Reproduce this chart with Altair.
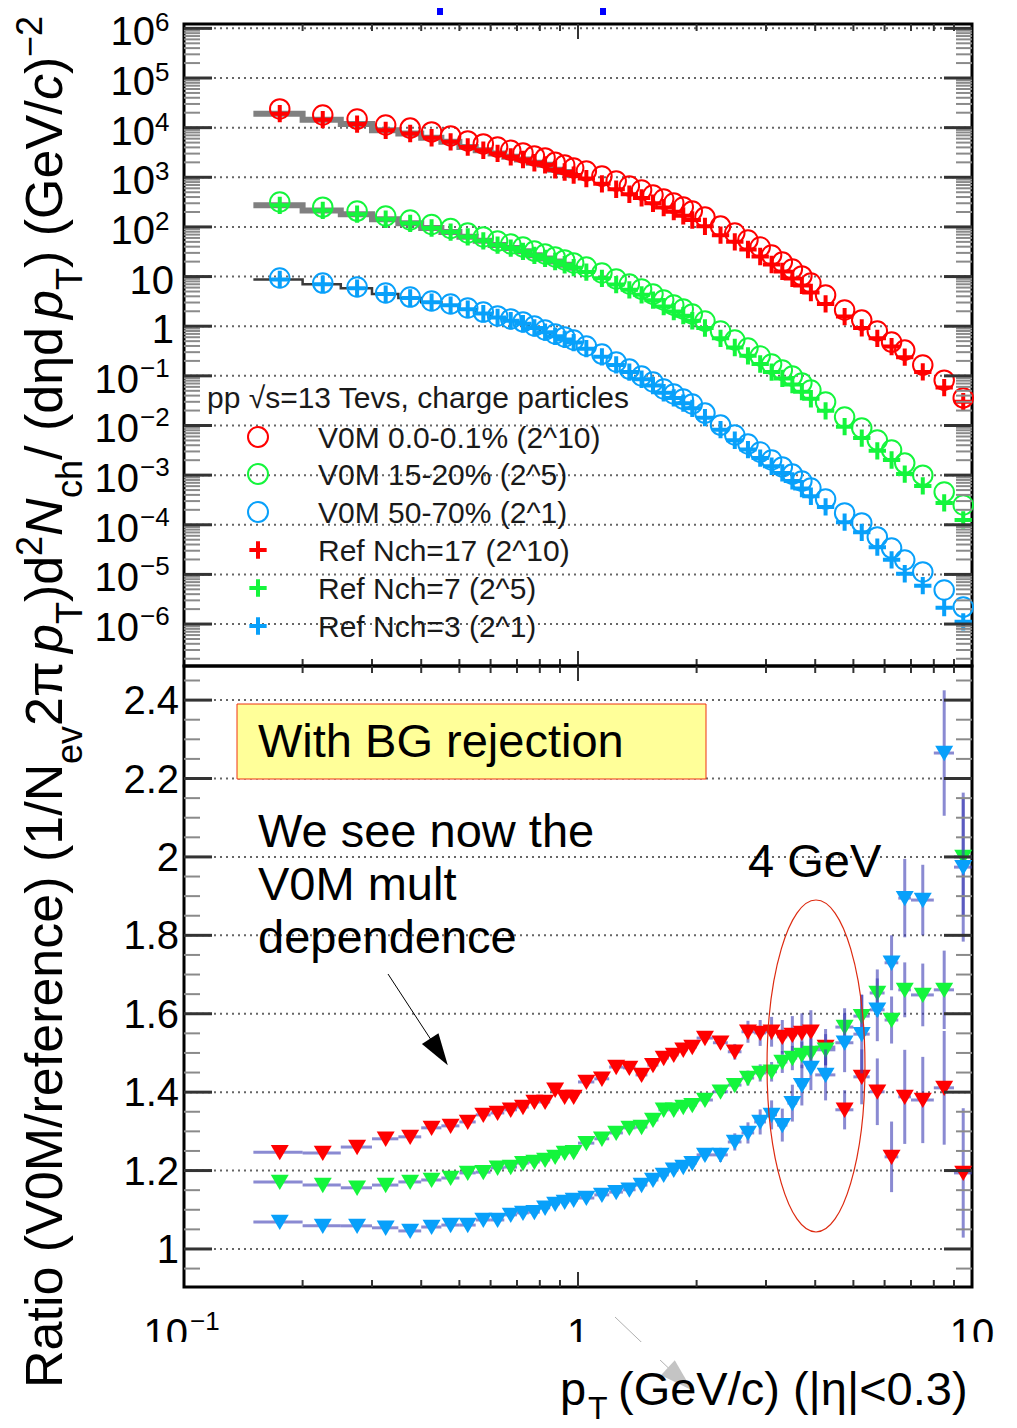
import altair as alt
import pandas as pd

FONT = "Liberation Sans"
W, H_TOP, H_BOT = 788, 642, 621

# ---------------- data ----------------
pt = [0.175, 0.225, 0.275, 0.325, 0.375, 0.425, 0.475, 0.525, 0.575, 0.625,
      0.675, 0.725, 0.775, 0.825, 0.875, 0.925, 0.975, 1.05, 1.15, 1.25,
      1.35, 1.45, 1.55, 1.65, 1.75, 1.85, 1.95, 2.1, 2.3, 2.5,
      2.7, 2.9, 3.1, 3.3, 3.5, 3.7, 3.9, 4.25, 4.75, 5.25,
      5.75, 6.25, 6.75, 7.5, 8.5, 9.5]
bin_lo = [0.15, 0.2, 0.25, 0.3, 0.35, 0.4, 0.45, 0.5, 0.55, 0.6, 0.65, 0.7, 0.75, 0.8, 0.85, 0.9, 0.95,
          1.0, 1.1, 1.2, 1.3, 1.4, 1.5, 1.6, 1.7, 1.8, 1.9, 2.0, 2.2, 2.4, 2.6, 2.8, 3.0, 3.2, 3.4, 3.6,
          3.8, 4.0, 4.5, 5.0, 5.5, 6.0, 6.5, 7.0, 8.0, 9.0]
bin_hi = [0.2, 0.25, 0.3, 0.35, 0.4, 0.45, 0.5, 0.55, 0.6, 0.65, 0.7, 0.75, 0.8, 0.85, 0.9, 0.95, 1.0,
          1.1, 1.2, 1.3, 1.4, 1.5, 1.6, 1.7, 1.8, 1.9, 2.0, 2.2, 2.4, 2.6, 2.8, 3.0, 3.2, 3.4, 3.6, 3.8,
          4.0, 4.5, 5.0, 5.5, 6.0, 6.5, 7.0, 8.0, 9.0, 10.0]

v0m_0_01 = [23800, 18000, 14900, 11300, 9800, 8200, 6800, 5400, 4700, 4070,
            3500, 3100, 2700, 2450, 2000, 1770, 1540, 1340, 1060, 841,
            667, 554, 440, 365, 303, 252, 209, 158, 104, 75.5,
            54.6, 39.4, 27.2, 19.6, 14.2, 10.3, 7.41, 4.25, 2.12, 1.33,
            0.80, 0.48, 0.33, 0.165, 0.082, 0.036]
ref_17 = [19100, 14500, 11800, 8820, 7620, 6260, 5180, 4080, 3500, 3020,
          2580, 2280, 1960, 1780, 1420, 1280, 1110, 940, 739, 574,
          456, 384, 300, 245, 203, 167, 138, 103, 68.2, 50.2,
          35.1, 25.4, 17.5, 12.7, 9.18, 6.64, 4.77, 2.81, 1.56, 0.924,
          0.571, 0.389, 0.238, 0.120, 0.0581, 0.0302]
v0m_15_20 = [318, 250, 209, 166, 138, 112, 92.9, 75.5, 62.7, 52.0,
             45.3, 39.4, 32.7, 28.5, 24.8, 21.6, 18.8, 15.6, 11.8, 8.93,
             7.08, 5.61, 4.45, 3.37, 2.67, 2.22, 1.76, 1.27, 0.80, 0.527,
             0.364, 0.251, 0.173, 0.131, 0.0993, 0.0718, 0.0519, 0.0297, 0.0148, 0.0089,
             0.0051, 0.0032, 0.00175, 0.00100, 0.000457, 0.00025]
ref_7 = [272, 215, 181, 143, 118, 95.2, 78.7, 63.2, 52.4, 43.1,
         37.5, 32.3, 26.8, 23.2, 20.1, 17.3, 15.1, 12.3, 9.21, 6.89,
         5.41, 4.28, 3.35, 2.49, 1.97, 1.63, 1.29, 0.920, 0.571, 0.372,
         0.253, 0.173, 0.119, 0.0887, 0.0668, 0.0480, 0.0346, 0.0197, 0.00945, 0.00558,
         0.00309, 0.00202, 0.00105, 0.000607, 0.000275, 0.000125]
v0m_50_70 = [9.35, 7.41, 6.16, 4.67, 3.87, 3.22, 2.80, 2.33, 1.93, 1.61,
             1.40, 1.22, 1.01, 0.838, 0.697, 0.607, 0.527, 0.399, 0.275, 0.190,
             0.137, 0.0993, 0.0752, 0.0543, 0.0431, 0.0341, 0.0271, 0.0178, 0.0102, 0.00643,
             0.00424, 0.00292, 0.00202, 0.00146, 0.00105, 0.00076, 0.00055, 0.00033, 0.000173, 0.000109,
             5.7e-5, 3.4e-5, 1.95e-5, 1.12e-5, 4.85e-6, 2.2e-6]
ref_3 = [8.75, 7.00, 5.82, 4.43, 3.70, 3.05, 2.64, 2.20, 1.80, 1.50,
         1.29, 1.12, 0.923, 0.758, 0.625, 0.542, 0.468, 0.353, 0.242, 0.166,
         0.119, 0.0854, 0.0639, 0.0457, 0.0359, 0.0282, 0.0222, 0.0144, 0.00823, 0.00505,
         0.00327, 0.00221, 0.00151, 0.00111, 0.000765, 0.000536, 0.000376, 0.000229, 0.000113, 7.04e-5,
         3.54e-5, 1.97e-5, 1.03e-5, 5.93e-6, 2.14e-6, 1.11e-6]

ratio_0_01 = [1.247, 1.245, 1.260, 1.281, 1.286, 1.309, 1.314, 1.324, 1.342, 1.347,
              1.355, 1.362, 1.375, 1.375, 1.406, 1.388, 1.388, 1.426, 1.434, 1.464,
              1.462, 1.444, 1.469, 1.487, 1.495, 1.508, 1.515, 1.538, 1.526, 1.503,
              1.554, 1.551, 1.554, 1.541, 1.546, 1.551, 1.554, 1.515, 1.355, 1.439,
              1.401, 1.235, 1.388, 1.380, 1.411, 1.194]
ratio_15_20 = [1.171, 1.163, 1.156, 1.163, 1.171, 1.176, 1.181, 1.194, 1.196, 1.207,
               1.209, 1.219, 1.222, 1.227, 1.235, 1.245, 1.247, 1.270, 1.281, 1.296,
               1.309, 1.311, 1.329, 1.355, 1.355, 1.362, 1.367, 1.380, 1.401, 1.418,
               1.436, 1.449, 1.452, 1.477, 1.487, 1.495, 1.500, 1.508, 1.566, 1.594,
               1.653, 1.584, 1.661, 1.648, 1.661, 2.000]
ratio_50_70 = [1.069, 1.059, 1.059, 1.054, 1.046, 1.056, 1.061, 1.061, 1.074, 1.074,
               1.087, 1.092, 1.094, 1.105, 1.115, 1.120, 1.125, 1.130, 1.138, 1.145,
               1.151, 1.163, 1.176, 1.189, 1.202, 1.209, 1.219, 1.240, 1.240, 1.273,
               1.296, 1.324, 1.342, 1.316, 1.372, 1.418, 1.462, 1.444, 1.526, 1.548,
               1.610, 1.730, 1.895, 1.890, 2.265, 1.974]
err_0_01 = [0.004, 0.004, 0.004, 0.004, 0.004, 0.004, 0.005, 0.005, 0.005, 0.005,
            0.005, 0.005, 0.006, 0.006, 0.006, 0.006, 0.007, 0.007, 0.007, 0.008,
            0.008, 0.008, 0.009, 0.009, 0.010, 0.010, 0.011, 0.012, 0.015, 0.020,
            0.028, 0.033, 0.038, 0.043, 0.048, 0.050, 0.055, 0.046, 0.050, 0.070,
            0.085, 0.090, 0.120, 0.110, 0.145, 0.165]
err_15_20 = [0.003, 0.003, 0.003, 0.003, 0.003, 0.003, 0.004, 0.004, 0.004, 0.004,
             0.004, 0.004, 0.005, 0.005, 0.005, 0.005, 0.006, 0.006, 0.006, 0.007,
             0.007, 0.007, 0.008, 0.008, 0.009, 0.009, 0.010, 0.011, 0.013, 0.016,
             0.019, 0.022, 0.025, 0.028, 0.031, 0.034, 0.037, 0.040, 0.048, 0.055,
             0.060, 0.060, 0.070, 0.080, 0.100, 0.150]
err_50_70 = [0.003, 0.003, 0.003, 0.003, 0.003, 0.003, 0.004, 0.004, 0.004, 0.004,
             0.004, 0.004, 0.005, 0.005, 0.005, 0.005, 0.006, 0.006, 0.006, 0.007,
             0.007, 0.008, 0.008, 0.009, 0.010, 0.011, 0.012, 0.014, 0.018, 0.022,
             0.027, 0.032, 0.037, 0.042, 0.047, 0.052, 0.057, 0.065, 0.075, 0.100,
             0.080, 0.070, 0.100, 0.090, 0.160, 0.190]

v0m_labels = ["V0M 0.0-0.1% (2^10)", "V0M 15-20% (2^5)", "V0M 50-70% (2^1)"]
ref_labels = ["Ref Nch=17 (2^10)", "Ref Nch=7 (2^5)", "Ref Nch=3 (2^1)"]
colors = ["#ff0000", "#14f53c", "#08a0fa"]
v0m_all = [v0m_0_01, v0m_15_20, v0m_50_70]
ref_all = [ref_17, ref_7, ref_3]
ratio_all = [ratio_0_01, ratio_15_20, ratio_50_70]
err_all = [err_0_01, err_15_20, err_50_70]

ERR_COLOR = "#3c3cb4"

# ---------------- scales ----------------
XS = alt.Scale(type="log", domain=[0.1, 10], nice=False)
YT = alt.Scale(type="log", domain=[10 ** -6.845, 10 ** 6.088], nice=False)
YB = alt.Scale(type="linear", domain=[0.903, 2.487], nice=False, zero=False)
CS = alt.Scale(domain=v0m_labels, range=colors)

ONE = pd.DataFrame({"k": [0]})


def X(f="pt"):
    return alt.X(f"{f}:Q", scale=XS, axis=None)


def txt(x, y, text, size, align="left", angle=None, style="normal", color="black"):
    kw = dict(text=text, fontSize=size, font=FONT, align=align, baseline="alphabetic",
              color=color, fontStyle=style)
    if angle is not None:
        kw["angle"] = angle
    return alt.Chart(ONE).mark_text(**kw).encode(x=alt.value(x), y=alt.value(y))


def hticks(vals, scale, x0, x1, color, width):
    return alt.Chart(pd.DataFrame({"v": vals})).mark_rule(color=color, strokeWidth=width).encode(
        y=alt.Y("v:Q", scale=scale, axis=None), x=alt.value(x0), x2=alt.value(x1))


def vticks(vals, y0, y1, color="#333333", width=2):
    return alt.Chart(pd.DataFrame({"v": vals})).mark_rule(color=color, strokeWidth=width).encode(
        x=alt.X("v:Q", scale=XS, axis=None), y=alt.value(y0), y2=alt.value(y1))


def grid(vals, scale):
    return alt.Chart(pd.DataFrame({"v": vals})).mark_rule(
        color="#666666", strokeWidth=2, strokeDash=[2, 4]).encode(
        y=alt.Y("v:Q", scale=scale, axis=None), x=alt.value(0), x2=alt.value(W))


x_major = [1.0]
x_minor = [0.2, 0.3, 0.4, 0.5, 0.6, 0.7, 0.8, 0.9, 2, 3, 4, 5, 6, 7, 8, 9]


def frame_ticks(H, ymaj, ymin, scale):
    return [
        hticks(ymin, scale, 0, 16, "#8a8a8a", 2),
        hticks(ymin, scale, W - 16, W, "#8a8a8a", 2),
        hticks(ymaj, scale, 0, 28, "#333333", 3),
        hticks(ymaj, scale, W - 28, W, "#333333", 3),
        vticks(x_minor, 0, 7), vticks(x_major, 0, 15),
        vticks(x_minor, H - 7, H), vticks(x_major, H - 15, H),
    ]


# ---------------- top panel ----------------
top_major = [10.0 ** e for e in range(-6, 7)]
top_minor = [k * 10.0 ** e for e in range(-7, 6) for k in range(2, 10) if k * 10.0 ** e >= 10 ** -6.845]

rows = []
for lab, v, r in zip(v0m_labels, v0m_all, ref_all):
    for p, a, b in zip(pt, v, r):
        rows.append({"pt": p, "v0m": a, "ref": b, "series": lab})
df_sp = pd.DataFrame(rows)

top_layers = [grid(top_major, YT)]

# reference histograms drawn as steps at low pT
for i, (r, col, w) in enumerate(zip(ref_all, ["#808080", "#808080", "#3a3a3a"], [6, 6, 2.5])):
    n = 17
    xs = bin_lo[:n] + [bin_hi[n - 1]]
    ys = r[:n] + [r[n - 1]]
    top_layers.append(
        alt.Chart(pd.DataFrame({"x": xs, "y": ys})).mark_line(
            interpolate="step-after", color=col, strokeWidth=w).encode(
            x=X("x"), y=alt.Y("y:Q", scale=YT, axis=None)))

PLUS = "M-1,0L1,0M0,-1L0,1"
top_layers.append(
    alt.Chart(df_sp).mark_point(shape="circle", filled=False, size=380, strokeWidth=2, opacity=1).encode(
        x=X(), y=alt.Y("v0m:Q", scale=YT, axis=None), color=alt.Color("series:N", scale=CS, legend=None)))
top_layers.append(
    alt.Chart(df_sp).mark_point(shape=PLUS, filled=False, size=300, strokeWidth=4, opacity=1).encode(
        x=X(), y=alt.Y("ref:Q", scale=YT, axis=None), color=alt.Color("series:N", scale=CS, legend=None)))

top_layers += frame_ticks(H_TOP, top_major, top_minor, YT)

# y tick labels (top)
pos = pd.DataFrame({"v": [1e6, 1e5, 1e4, 1e3, 1e2], "sup": ["6", "5", "4", "3", "2"]})
neg = pd.DataFrame({"v": [1e-1, 1e-2, 1e-3, 1e-4, 1e-5, 1e-6],
                    "sup": ["\u22121", "\u22122", "\u22123", "\u22124", "\u22125", "\u22126"]})
plain = pd.DataFrame({"v": [10.0, 1.0], "t": ["10", "1"]})
YTv = alt.Y("v:Q", scale=YT, axis=None)
top_layers += [
    alt.Chart(pos).mark_text(text="10", fontSize=40, font=FONT, align="right", baseline="alphabetic",
                             dy=17, color="black").encode(y=YTv, x=alt.value(-29)),
    alt.Chart(pos).mark_text(fontSize=26, font=FONT, align="left", baseline="alphabetic",
                             dy=3, color="black").encode(y=YTv, x=alt.value(-29), text="sup:N"),
    alt.Chart(neg).mark_text(text="10", fontSize=40, font=FONT, align="right", baseline="alphabetic",
                             dy=17, color="black").encode(y=YTv, x=alt.value(-45)),
    alt.Chart(neg).mark_text(fontSize=26, font=FONT, align="left", baseline="alphabetic",
                             dy=1, color="black").encode(y=YTv, x=alt.value(-44), text="sup:N"),
    alt.Chart(plain).mark_text(fontSize=40, font=FONT, align="right", baseline="alphabetic",
                               dy=17, color="black").encode(y=YTv, x=alt.value(-10), text="t:N"),
]

# legend
top_layers.append(txt(23, 384, "pp \u221As=13 Tevs, charge particles", 30, color="#1a1a1a"))
leg_rows = [413, 450, 488, 526, 564, 602]
for i in range(3):
    top_layers.append(alt.Chart(ONE).mark_point(shape="circle", filled=False, size=400, strokeWidth=2,
                                                opacity=1, color=colors[i]).encode(
        x=alt.value(74), y=alt.value(leg_rows[i])))
    top_layers.append(txt(134, leg_rows[i] + 11, v0m_labels[i], 30, color="#1a1a1a"))
for i in range(3):
    top_layers.append(alt.Chart(ONE).mark_point(shape=PLUS, filled=False, size=300, strokeWidth=4,
                                                opacity=1, color=colors[i]).encode(
        x=alt.value(74), y=alt.value(leg_rows[3 + i])))
    top_layers.append(txt(134, leg_rows[3 + i] + 11, ref_labels[i], 30, color="#1a1a1a"))

# vertical axis title (spans both panels), pieces placed bottom-to-top
XM, XSUB, XSUP = 62 - 184, 82 - 184, 42 - 184
title_pieces = [
    ("Ratio (V0M/reference) (1/N", 1388, XM, 52, "normal"),
    ("ev", 764, XSUB, 36, "normal"),
    (" 2\u03c0", 726, XM, 52, "normal"),
    ("p", 653, XM, 52, "italic"),
    ("T", 624, XSUB, 36, "normal"),
    (")d", 602, XM, 52, "normal"),
    ("2", 556, XSUP, 36, "normal"),
    ("N", 536, XM, 52, "italic"),
    ("ch", 498, XSUB, 36, "normal"),
    (" / (d\u03b7d", 460, XM, 52, "normal"),
    ("p", 319, XM, 52, "italic"),
    ("T", 290, XSUB, 36, "normal"),
    (") (GeV/", 268, XM, 52, "normal"),
    ("c", 100, XM, 52, "italic"),
    (")", 74, XM, 52, "normal"),
    ("\u22122", 57, XSUP, 36, "normal"),
]
for t, y, x, s, st in title_pieces:
    top_layers.append(txt(x, y - 24, t, s, angle=270, style=st))

# blue marks at the very top of the page
for x0 in [253, 416]:
    top_layers.append(alt.Chart(ONE).mark_rect(color="#0000ff").encode(
        x=alt.value(x0), x2=alt.value(x0 + 6), y=alt.value(-16), y2=alt.value(-9)))

top = alt.layer(*top_layers).properties(width=W, height=H_TOP)

# ---------------- bottom panel ----------------
bot_major = [1.0, 1.2, 1.4, 1.6, 1.8, 2.0, 2.2, 2.4]
bot_minor = [round(0.95 + 0.05 * i, 2) for i in range(31)]
bot_minor = [v for v in bot_minor if all(abs(v - m) > 1e-6 for m in bot_major)]

YBv = alt.Y("v:Q", scale=YB, axis=None)
bot_layers = [grid(bot_major, YB)]

# yellow box
bot_layers.append(alt.Chart(ONE).mark_rect(fill="#ffff99", stroke="#ee3311", strokeWidth=1).encode(
    x=alt.value(53), x2=alt.value(522), y=alt.value(38), y2=alt.value(113)))
bot_layers.append(txt(74, 91, "With BG rejection", 47))

TRI = "M-1,-0.8L1,-0.8L0,0.9Z"
for lab, rat, err, col in zip(v0m_labels, ratio_all, err_all, colors):
    d = pd.DataFrame({"pt": pt, "lo": bin_lo, "hi": bin_hi, "r": rat,
                      "rlo": [a - b for a, b in zip(rat, err)], "rhi": [a + b for a, b in zip(rat, err)]})
    bot_layers.append(alt.Chart(d).mark_rule(color=ERR_COLOR, strokeWidth=3, opacity=0.6).encode(
        x=X("lo"), x2="hi:Q", y=alt.Y("r:Q", scale=YB, axis=None)))
    bot_layers.append(alt.Chart(d).mark_rule(color=ERR_COLOR, strokeWidth=3, opacity=0.6).encode(
        x=X("pt"), y=alt.Y("rlo:Q", scale=YB, axis=None), y2="rhi:Q"))
    bot_layers.append(alt.Chart(d).mark_point(shape=TRI, filled=True, size=324, opacity=1, color=col,
                                              strokeWidth=0).encode(
        x=X("pt"), y=alt.Y("r:Q", scale=YB, axis=None)))

bot_layers += frame_ticks(H_BOT, bot_major, bot_minor, YB)

# y labels (bottom)
blab = pd.DataFrame({"v": bot_major, "t": ["1", "1.2", "1.4", "1.6", "1.8", "2", "2.2", "2.4"]})
bot_layers.append(alt.Chart(blab).mark_text(fontSize=40, font=FONT, align="right", baseline="alphabetic",
                                            dy=14, color="black").encode(y=YBv, x=alt.value(-5), text="t:N"))
# x labels
xl = pd.DataFrame({"v": [1.0, 10.0], "t": ["1", "10"]})
xl0 = pd.DataFrame({"v": [0.1]})
bot_layers += [
    alt.Chart(xl).mark_text(fontSize=40, font=FONT, align="center", baseline="alphabetic",
                            color="black").encode(x=X("v"), y=alt.value(681), text="t:N"),
    alt.Chart(xl0).mark_text(text="10", fontSize=40, font=FONT, align="right", baseline="alphabetic",
                             dx=4, color="black").encode(x=X("v"), y=alt.value(681)),
    alt.Chart(xl0).mark_text(text="\u22121", fontSize=26, font=FONT, align="left", baseline="alphabetic",
                             dx=6, color="black").encode(x=X("v"), y=alt.value(664)),
]

# annotations
bot_layers += [
    txt(74, 181, "We see now the", 47),
    txt(74, 234, "V0M mult", 47),
    txt(74, 287, "dependence", 47),
    txt(564, 211, "4 GeV", 47),
]
ELL = ("M0,-1C0.163,-1 0.295,-0.5523 0.295,0C0.295,0.5523 0.163,1 0,1"
       "C-0.163,1 -0.295,0.5523 -0.295,0C-0.295,-0.5523 -0.163,-1 0,-1Z")
bot_layers.append(alt.Chart(ONE).mark_point(shape=ELL, filled=False, size=110224, stroke="#dd2a10",
                                            strokeWidth=1.2, opacity=1).encode(
    x=alt.value(632), y=alt.value(400)))
HEAD = "M1,0L-1,-0.62L-1,0.62Z"
bot_layers.append(alt.Chart(ONE).mark_rule(color="black", strokeWidth=1).encode(
    x=alt.value(204), y=alt.value(308), x2=alt.value(255), y2=alt.value(386)))
bot_layers.append(alt.Chart(ONE).mark_point(shape=HEAD, filled=True, size=1024, angle=56.6,
                                            color="black", opacity=1, strokeWidth=0).encode(
    x=alt.value(255), y=alt.value(386)))

# grey stray arrow near the axis title, partly hidden by a white band
bot_layers.append(alt.Chart(ONE).mark_rule(color="#b0b0b0", strokeWidth=1).encode(
    x=alt.value(431), y=alt.value(651), x2=alt.value(496), y2=alt.value(713)))
bot_layers.append(alt.Chart(ONE).mark_rect(color="white").encode(
    x=alt.value(-84), x2=alt.value(826), y=alt.value(676), y2=alt.value(694)))
bot_layers.append(alt.Chart(ONE).mark_point(shape=HEAD, filled=True, size=1089, angle=42.6,
                                            color="#c4c4c4", opacity=1, strokeWidth=0).encode(
    x=alt.value(496), y=alt.value(713)))

# x title
bot_layers += [
    txt(376, 739, "p", 47),
    txt(404, 753, "T", 32),
    txt(434, 739, "(GeV/c) (|\u03b7|<0.3)", 47),
]

bottom = alt.layer(*bot_layers).properties(width=W, height=H_BOT)

chart = alt.vconcat(top, bottom, spacing=0, bounds="flush").properties(
    autosize=alt.AutoSizeParams(type="none"),
    padding={"left": 176, "top": 16, "right": 37, "bottom": 1404},
).configure_view(stroke="black", strokeWidth=3)

chart.save("out.html", embed_options={"renderer": "svg", "actions": False})
